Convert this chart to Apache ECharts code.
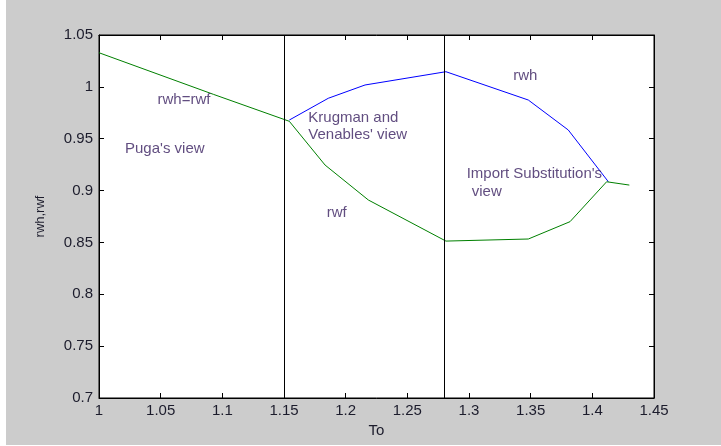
<!DOCTYPE html>
<html>
<head>
<meta charset="utf-8">
<script src="https://cdn.jsdelivr.net/npm/echarts@6/dist/echarts.min.js"></script>
<style>
html,body{margin:0;padding:0;background:#ffffff;width:721px;height:446px;overflow:hidden;}
#chart{position:absolute;left:6px;top:0;width:715px;height:445px;background:#cccccc;}
</style>
</head>
<body>
<div id="chart"></div>
<script>
// ---- data ----
var xTicksMin = 1.0, xTicksMax = 1.45, xTickStep = 0.05;
var yTicksMin = 0.7, yTicksMax = 1.05, yTickStep = 0.05;

// common branch rwh = rwf (Puga's view)
var equalTo     = [1.0,    1.0927, 1.1543];
var equalValues = [1.0329, 0.9928, 0.9668];

// rwh branch (blue)
var rwhTo     = [1.1543, 1.1859, 1.2157, 1.2813, 1.3481, 1.3805, 1.4130];
var rwhValues = [0.9680, 0.9890, 1.0018, 1.0146, 0.9873, 0.9584, 0.9085];

// rwf branch (green)
var rwfTo     = [1.1543, 1.1833, 1.2184, 1.2813, 1.3481, 1.3819, 1.4116, 1.4300];
var rwfValues = [0.9668, 0.9246, 0.8909, 0.8513, 0.8533, 0.8700, 0.9085, 0.9053];

// regime boundaries (vertical lines)
var dividers = [1.1543, 1.2813];

// annotations: text and anchor (To, value)
var noteTexts  = ["rwh=rwf", "Puga's view", "Krugman and", "Venables' view", "rwf", "rwh", "Import Substitution's", "view"];
var noteTo     = [1.0474, 1.0211, 1.1697, 1.1697, 1.1846, 1.3359, 1.2981, 1.3022];
var noteValues = [0.9878, 0.9406, 0.9700, 0.9539, 0.8781, 1.0109, 0.9160, 0.8989];

function zip(a, b) { return a.map(function (v, i) { return [v, b[i]]; }); }

var chart = echarts.init(document.getElementById('chart'), null, {renderer: 'canvas'});
var fontFam = 'Arial, "Liberation Sans", sans-serif';
var tickColor = '#1c1c2c';
var noteColor = '#3a2060';

function fmt(v) { return String(+v.toFixed(2)); }

var option = {
  animation: false,
  backgroundColor: '#cccccc',
  grid: {left: 93, right: 67, top: 35, bottom: 47, show: true, backgroundColor: '#ffffff', borderColor: '#000000', borderWidth: 1},
  xAxis: [{
    type: 'value', min: xTicksMin, max: xTicksMax, interval: xTickStep,
    name: 'To', nameLocation: 'middle', nameGap: 23,
    nameTextStyle: {fontSize: 15, color: tickColor, fontFamily: fontFam},
    axisLine: {show: true, onZero: false, lineStyle: {color: '#000', width: 1}},
    axisTick: {show: true, inside: true, length: 5, lineStyle: {color: '#000'}},
    axisLabel: {fontSize: 15, color: tickColor, fontFamily: fontFam, margin: 5, formatter: fmt},
    splitLine: {show: false}
  }, {
    type: 'value', position: 'top', min: xTicksMin, max: xTicksMax, interval: xTickStep,
    axisLine: {show: true, onZero: false, lineStyle: {color: '#000', width: 1}},
    axisTick: {show: true, inside: true, length: 5, lineStyle: {color: '#000'}},
    axisLabel: {show: false}, splitLine: {show: false}
  }],
  yAxis: [{
    type: 'value', min: yTicksMin, max: yTicksMax, interval: yTickStep,
    name: 'rwh,rwf', nameLocation: 'middle', nameGap: 52,
    nameTextStyle: {fontSize: 13, color: tickColor, fontFamily: fontFam},
    axisLine: {show: true, onZero: false, lineStyle: {color: '#000', width: 1}},
    axisTick: {show: true, inside: true, length: 5, lineStyle: {color: '#000'}},
    axisLabel: {fontSize: 15, color: tickColor, fontFamily: fontFam, margin: 6, formatter: fmt},
    splitLine: {show: false}
  }, {
    type: 'value', position: 'right', min: yTicksMin, max: yTicksMax, interval: yTickStep,
    axisLine: {show: true, onZero: false, lineStyle: {color: '#000', width: 1}},
    axisTick: {show: true, inside: true, length: 5, lineStyle: {color: '#000'}},
    axisLabel: {show: false}, splitLine: {show: false}
  }],
  series: [
    {
      type: 'line', name: 'rwh=rwf', data: zip(equalTo, equalValues),
      showSymbol: false, symbol: 'none', lineStyle: {color: '#008000', width: 1}, z: 3,
      markLine: {
        silent: true, symbol: ['none', 'none'], label: {show: false},
        lineStyle: {color: '#000000', width: 1, type: 'solid'},
        data: dividers.map(function (d) { return {xAxis: d}; })
      }
    },
    {
      type: 'line', name: 'rwh', data: zip(rwhTo, rwhValues),
      showSymbol: false, symbol: 'none', lineStyle: {color: '#0000ff', width: 1}, z: 3
    },
    {
      type: 'line', name: 'rwf', data: zip(rwfTo, rwfValues),
      showSymbol: false, symbol: 'none', lineStyle: {color: '#008000', width: 1}, z: 4
    },
    {
      type: 'scatter', name: 'notes', symbolSize: 0, silent: true, z: 5,
      data: noteTexts.map(function (t, i) { return {value: [noteTo[i], noteValues[i]], name: t}; }),
      label: {
        show: true, position: 'right', distance: 0, formatter: '{b}',
        fontSize: 15, color: noteColor, fontFamily: fontFam
      }
    }
  ]
};
chart.setOption(option);
</script>
</body>
</html>
